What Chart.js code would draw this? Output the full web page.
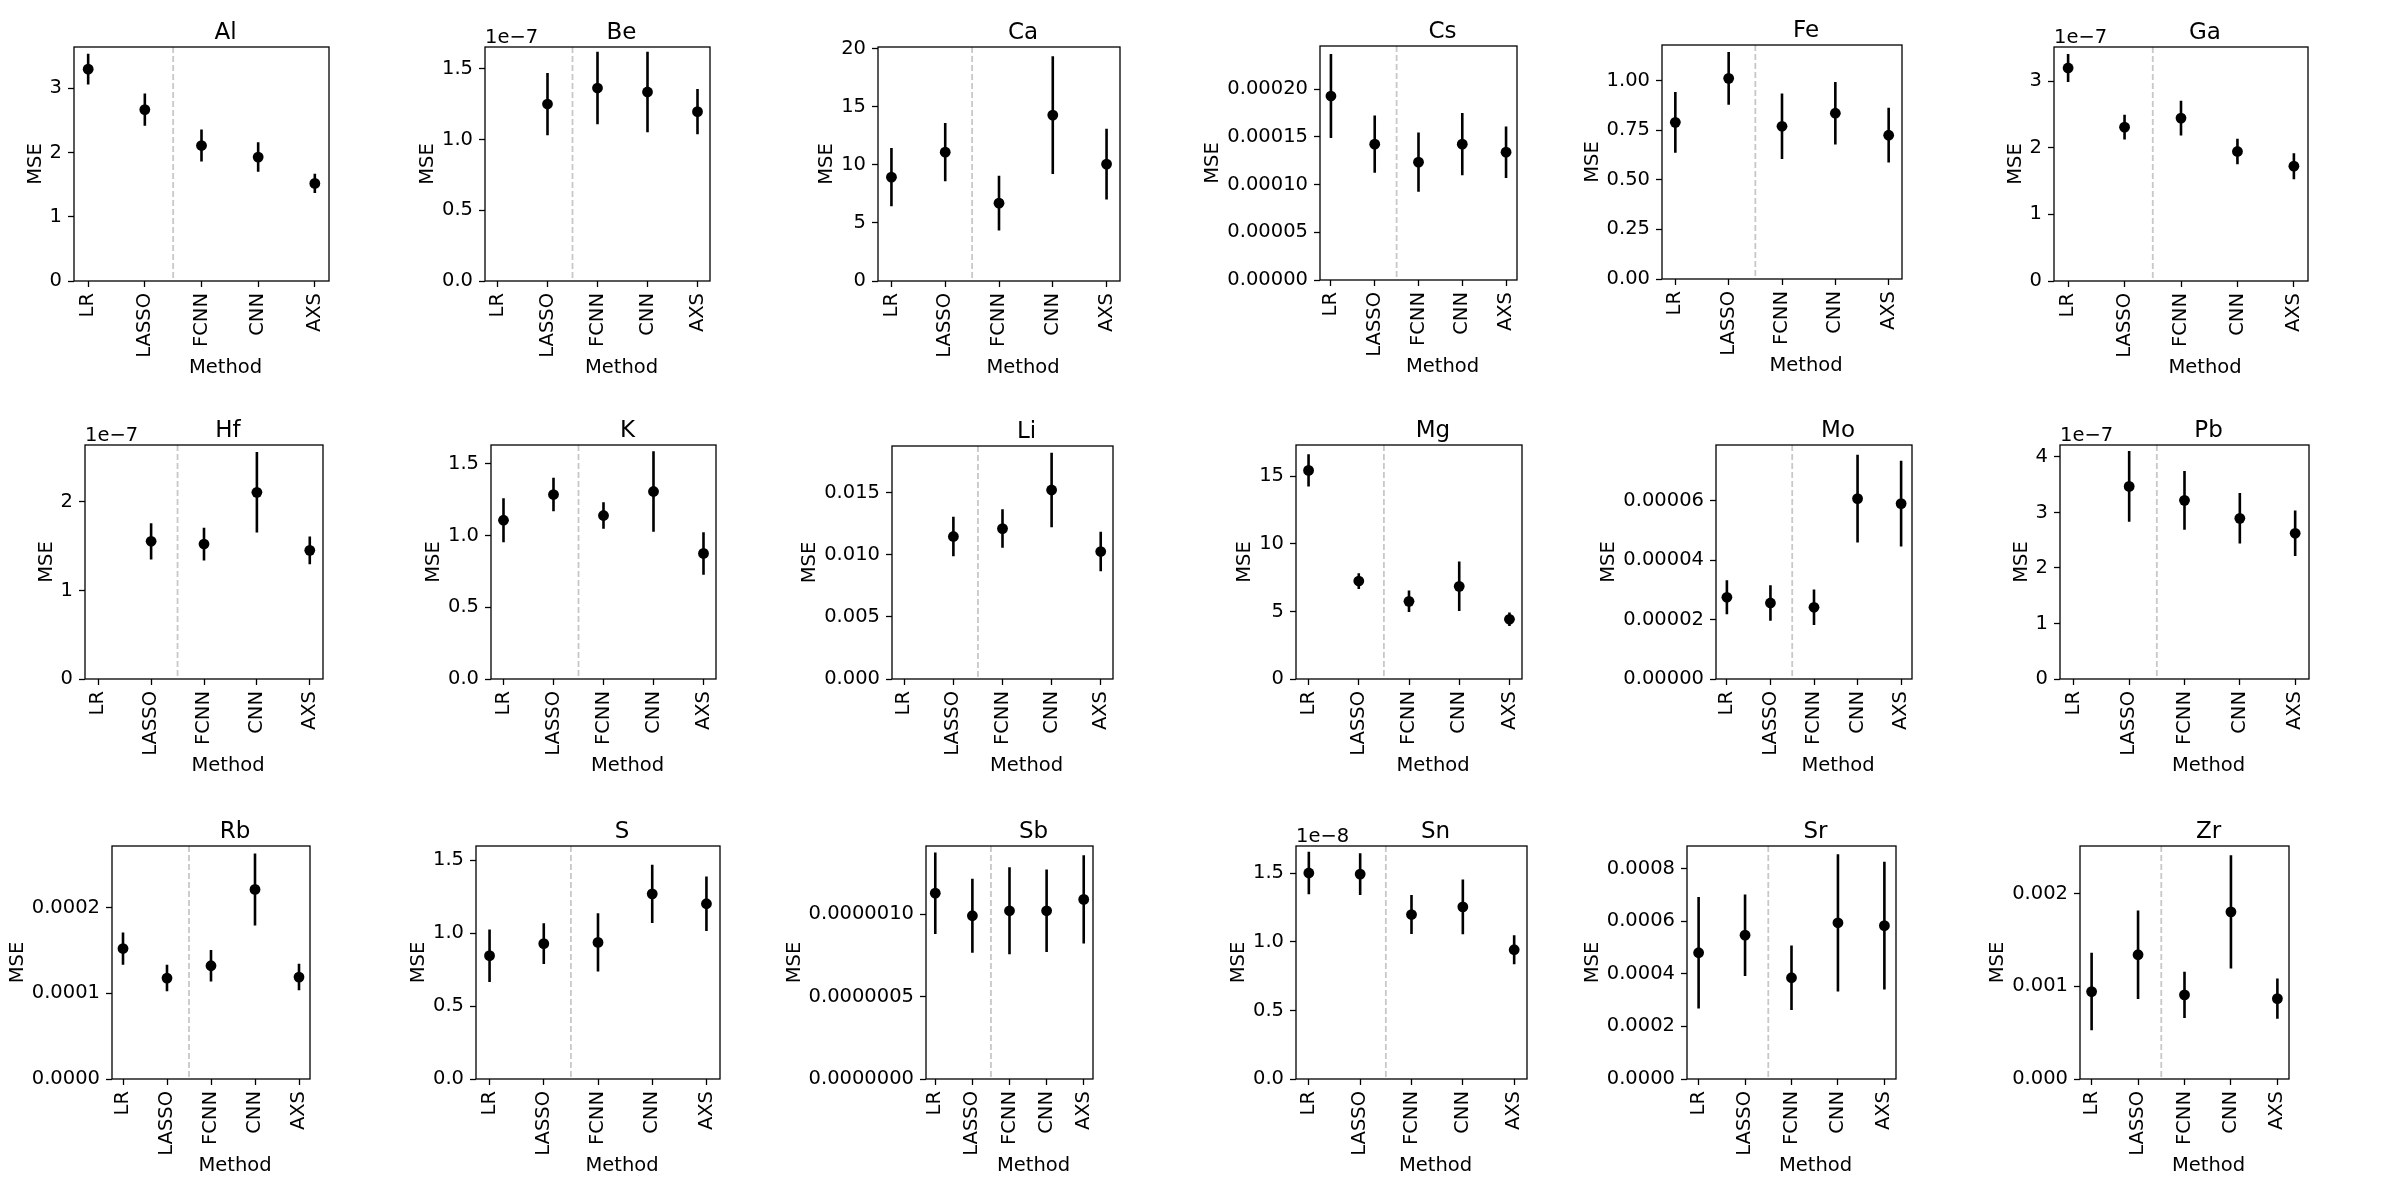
<!DOCTYPE html>
<html>
<head>
<meta charset="utf-8">
<script src="https://cdn.jsdelivr.net/npm/chart.js@4.4.1/dist/chart.umd.min.js"></script>
<style>
html, body { margin: 0; padding: 0; background: #fff; }
#fig { position: relative; width: 2400px; height: 1194px; overflow: hidden; background: #fff; }
#fig canvas { position: absolute; }
</style>
</head>
<body>
<div id="fig"></div>
<script>
// methods on the x axis (same for every element)
const methods = ['LR', 'LASSO', 'FCNN', 'CNN', 'AXS'];

// mean MSE and its spread per method, null where a method was not run
const al_mse = [3.30, 2.67, 2.11, 1.93, 1.52];
const al_std = [0.24, 0.25, 0.25, 0.23, 0.15];
const be_mse = [null, 1.25e-7, 1.363e-7, 1.335e-7, 1.196e-7];
const be_std = [null, 0.22e-7, 0.256e-7, 0.284e-7, 0.16e-7];
const ca_mse = [8.94, 11.09, 6.70, 14.28, 10.06];
const ca_std = [2.5, 2.5, 2.35, 5.06, 3.05];
const cs_mse = [1.927e-4, 1.423e-4, 1.234e-4, 1.423e-4, 1.339e-4];
const cs_std = [4.4e-5, 3.0e-5, 3.1e-5, 3.27e-5, 2.7e-5];
const fe_mse = [0.790, 1.012, 0.770, 0.836, 0.725];
const fe_std = [0.153, 0.133, 0.165, 0.158, 0.138];
const ga_mse = [3.195e-7, 2.308e-7, 2.444e-7, 1.943e-7, 1.723e-7];
const ga_std = [0.21e-7, 0.185e-7, 0.26e-7, 0.19e-7, 0.195e-7];
const hf_mse = [null, 1.556e-7, 1.525e-7, 2.109e-7, 1.454e-7];
const hf_std = [null, 0.205e-7, 0.185e-7, 0.455e-7, 0.157e-7];
const k_mse = [1.106, 1.285, 1.139, 1.306, 0.875];
const k_std = [0.153, 0.117, 0.093, 0.28, 0.148];
const li_mse = [null, 0.01149, 0.01213, 0.01524, 0.01028];
const li_std = [null, 0.0016, 0.00155, 0.003, 0.0016];
const mg_mse = [15.44, 7.25, 5.75, 6.86, 4.42];
const mg_std = [1.2, 0.58, 0.8, 1.83, 0.5];
const mo_mse = [2.748e-5, 2.557e-5, 2.412e-5, 6.068e-5, 5.90e-5];
const mo_std = [0.57e-5, 0.6e-5, 0.6e-5, 1.475e-5, 1.44e-5];
const pb_mse = [null, 3.47e-7, 3.219e-7, 2.895e-7, 2.625e-7];
const pb_std = [null, 0.637e-7, 0.53e-7, 0.455e-7, 0.41e-7];
const rb_mse = [1.523e-4, 1.178e-4, 1.322e-4, 2.213e-4, 1.19e-4];
const rb_std = [0.188e-4, 0.155e-4, 0.184e-4, 0.42e-4, 0.155e-4];
const s_mse = [0.846, 0.928, 0.937, 1.270, 1.202];
const s_std = [0.18, 0.14, 0.2, 0.2, 0.187];
const sb_mse = [1.127e-6, 0.99e-6, 1.02e-6, 1.02e-6, 1.089e-6];
const sb_std = [0.247e-6, 0.224e-6, 0.264e-6, 0.25e-6, 0.268e-6];
const sn_mse = [1.503e-8, 1.495e-8, 1.2e-8, 1.256e-8, 0.943e-8];
const sn_std = [0.155e-8, 0.152e-8, 0.142e-8, 0.2e-8, 0.105e-8];
const sr_mse = [4.80e-4, 5.47e-4, 3.85e-4, 5.94e-4, 5.83e-4];
const sr_std = [2.12e-4, 1.55e-4, 1.23e-4, 2.61e-4, 2.43e-4];
const zr_mse = [0.943e-3, 1.34e-3, 0.907e-3, 1.803e-3, 0.867e-3];
const zr_std = [0.418e-3, 0.477e-3, 0.25e-3, 0.61e-3, 0.218e-3];

// y tick labels as printed (before the offset factor)
const al_ticks = ['0', '1', '2', '3'];
const be_ticks = ['0.0', '0.5', '1.0', '1.5'];
const ca_ticks = ['0', '5', '10', '15', '20'];
const cs_ticks = ['0.00000', '0.00005', '0.00010', '0.00015', '0.00020'];
const fe_ticks = ['0.00', '0.25', '0.50', '0.75', '1.00'];
const ga_ticks = ['0', '1', '2', '3'];
const hf_ticks = ['0', '1', '2'];
const k_ticks = ['0.0', '0.5', '1.0', '1.5'];
const li_ticks = ['0.000', '0.005', '0.010', '0.015'];
const mg_ticks = ['0', '5', '10', '15'];
const mo_ticks = ['0.00000', '0.00002', '0.00004', '0.00006'];
const pb_ticks = ['0', '1', '2', '3', '4'];
const rb_ticks = ['0.0000', '0.0001', '0.0002'];
const s_ticks = ['0.0', '0.5', '1.0', '1.5'];
const sb_ticks = ['0.0000000', '0.0000005', '0.0000010'];
const sn_ticks = ['0.0', '0.5', '1.0', '1.5'];
const sr_ticks = ['0.0000', '0.0002', '0.0004', '0.0006', '0.0008'];
const zr_ticks = ['0.000', '0.001', '0.002'];

// element names, y-axis upper limits and offset exponents
const elements = ['Al', 'Be', 'Ca', 'Cs', 'Fe', 'Ga', 'Hf', 'K', 'Li', 'Mg', 'Mo', 'Pb', 'Rb', 'S', 'Sb', 'Sn', 'Sr', 'Zr'];
const yTop = [3.645, 1.653e-7, 20.14, 2.451e-4, 1.18, 3.51e-7,
              2.644e-7, 1.63, 0.01879, 17.32, 7.87e-5, 4.216e-7,
              2.72e-4, 1.598, 1.413e-6, 1.70e-8, 8.86e-4, 2.513e-3];
const offsetExp = [0, -7, 0, 0, 0, -7, -7, 0, 0, 0, 0, -7, 0, 0, 0, -8, 0, 0];

const mseList = [al_mse, be_mse, ca_mse, cs_mse, fe_mse, ga_mse, hf_mse, k_mse, li_mse,
                 mg_mse, mo_mse, pb_mse, rb_mse, s_mse, sb_mse, sn_mse, sr_mse, zr_mse];
const stdList = [al_std, be_std, ca_std, cs_std, fe_std, ga_std, hf_std, k_std, li_std,
                 mg_std, mo_std, pb_std, rb_std, s_std, sb_std, sn_std, sr_std, zr_std];
const tickList = [al_ticks, be_ticks, ca_ticks, cs_ticks, fe_ticks, ga_ticks, hf_ticks, k_ticks, li_ticks,
                  mg_ticks, mo_ticks, pb_ticks, rb_ticks, s_ticks, sb_ticks, sn_ticks, sr_ticks, zr_ticks];

// axes boxes on the page: [left, right, top, bottom]
const boxes = [
  [74, 329, 47, 281], [485, 710, 47, 281], [878, 1120, 47, 281],
  [1320, 1517, 46, 280], [1662, 1902, 45, 279], [2054, 2308, 47, 281],
  [85, 323, 445, 679], [491, 716, 445, 679], [892, 1113, 446, 679],
  [1296, 1522, 445, 679], [1716, 1912, 445, 679], [2060, 2309, 445, 679],
  [112, 310, 846, 1079], [476, 720, 846, 1079], [926, 1093, 846, 1079],
  [1296, 1527, 846, 1079], [1687, 1896, 846, 1079], [2080, 2289, 846, 1079]
];

const FONT = 'DejaVu Sans';
const TICK_SIZE = 19.5;
const TITLE_SIZE = 23;
const PAD_TOP = 60, PAD_RIGHT = 40, Y_W = 150, X_H = 110;
const TEXT_SHIFT = 24;   // title and x label sit right of the axes centre

Chart.defaults.font.family = FONT;
Chart.defaults.color = '#000';

const measureCtx = document.createElement('canvas').getContext('2d');
measureCtx.font = TICK_SIZE + 'px "' + FONT + '"';

// frame, title, x label, offset text and the dashed LASSO/FCNN divider
const panelDecor = {
  id: 'panelDecor',
  beforeDatasetsDraw(chart, args, opts) {
    const { ctx, chartArea: a, scales: { x } } = chart;
    const xs = x.getPixelForValue(1.5);
    ctx.save();
    ctx.strokeStyle = '#c8c8c8';
    ctx.lineWidth = 1.8;
    ctx.setLineDash([6, 3]);
    ctx.beginPath();
    ctx.moveTo(xs, a.top);
    ctx.lineTo(xs, a.bottom);
    ctx.stroke();
    ctx.restore();
  },
  afterDraw(chart, args, opts) {
    const { ctx, chartArea: a } = chart;
    const cx = (a.left + a.right) / 2 + TEXT_SHIFT;
    ctx.save();
    ctx.strokeStyle = '#000';
    ctx.lineWidth = 1.3;
    ctx.strokeRect(a.left, a.top, a.right - a.left, a.bottom - a.top);
    ctx.fillStyle = '#000';
    ctx.textAlign = 'center';
    ctx.textBaseline = 'alphabetic';
    ctx.font = TITLE_SIZE + 'px "' + FONT + '"';
    ctx.fillText(opts.title, cx, a.top - 8);
    ctx.font = TICK_SIZE + 'px "' + FONT + '"';
    ctx.textBaseline = 'middle';
    ctx.fillText('Method', cx, a.bottom + 87);
    if (opts.offset) {
      ctx.textAlign = 'left';
      ctx.textBaseline = 'alphabetic';
      ctx.fillText(opts.offset, a.left, a.top - 4);
    }
    ctx.restore();
  }
};

const fig = document.getElementById('fig');

elements.forEach((name, k) => {
  const [L, R, T, B] = boxes[k];
  const mse = mseList[k], std = stdList[k], labels = tickList[k];
  const factor = Math.pow(10, offsetExp[k]);
  const tickVals = labels.map(t => parseFloat(t) * factor);

  // error bars as vertical segments separated by gaps
  const bars = [];
  const points = [];
  mse.forEach((m, i) => {
    if (m === null) return;
    bars.push({ x: i, y: m - std[i] }, { x: i, y: m + std[i] }, { x: i, y: null });
    points.push({ x: i, y: m });
  });

  const maxW = Math.max(...labels.map(t => measureCtx.measureText(t).width));
  const yTitlePad = Math.max(0, Y_W - (maxW + 26) - TICK_SIZE * 0.6);

  const canvas = document.createElement('canvas');
  canvas.width = Y_W + (R - L) + PAD_RIGHT;
  canvas.height = PAD_TOP + (B - T) + X_H;
  canvas.style.left = (L - Y_W) + 'px';
  canvas.style.top = (T - PAD_TOP) + 'px';
  fig.appendChild(canvas);

  const tickFont = { family: FONT, size: TICK_SIZE, lineHeight: 1.2 };
  const gridOpts = { drawOnChartArea: false, drawTicks: true, tickLength: 6, tickColor: '#000', tickWidth: 1.3 };

  new Chart(canvas, {
    type: 'scatter',
    data: {
      datasets: [
        { data: points, pointRadius: 5.4, pointHoverRadius: 5.4, backgroundColor: '#000', borderColor: '#000', borderWidth: 0, order: 0 },
        { data: bars, showLine: true, spanGaps: false, pointRadius: 0, pointHoverRadius: 0, borderColor: '#000', borderWidth: 2.6, order: 1 }
      ]
    },
    options: {
      responsive: false,
      animation: false,
      layout: { padding: { top: PAD_TOP, right: PAD_RIGHT, left: 0, bottom: 0 } },
      scales: {
        x: {
          type: 'linear',
          bounds: 'data',
          min: -0.25,
          max: 4.25,
          afterBuildTicks: s => { s.ticks = methods.map((m, i) => ({ value: i })); },
          afterFit: s => { s.height = X_H; },
          ticks: {
            callback: (v, i) => methods[i],
            minRotation: 90,
            maxRotation: 90,
            autoSkip: false,
            padding: 6,
            font: tickFont,
            color: '#000'
          },
          grid: gridOpts,
          border: { display: false },
          title: { display: false }
        },
        y: {
          type: 'linear',
          bounds: 'data',
          min: 0,
          max: yTop[k],
          afterBuildTicks: s => { s.ticks = tickVals.map(v => ({ value: v })); },
          afterFit: s => { s.width = Y_W; },
          ticks: {
            callback: (v, i) => labels[i],
            padding: 6,
            font: tickFont,
            color: '#000'
          },
          grid: gridOpts,
          border: { display: false },
          title: { display: true, text: 'MSE', font: tickFont, color: '#000', padding: { top: yTitlePad, bottom: 0 } }
        }
      },
      plugins: {
        legend: { display: false },
        tooltip: { enabled: false },
        panelDecor: { title: name, offset: offsetExp[k] ? '1e\u2212' + (-offsetExp[k]) : '' }
      }
    },
    plugins: [panelDecor]
  });
});
</script>
</body>
</html>
